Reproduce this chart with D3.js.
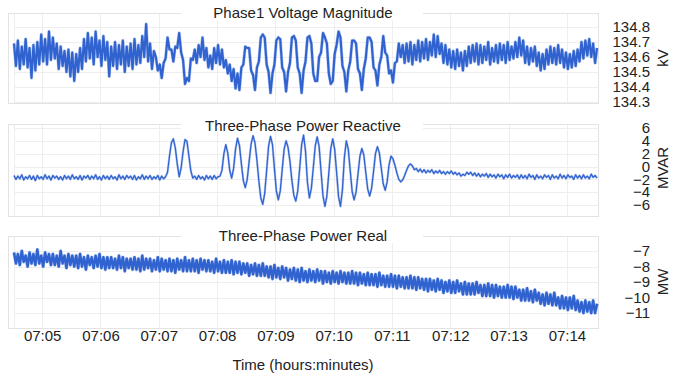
<!DOCTYPE html>
<html><head><meta charset="utf-8">
<script src="https://cdn.jsdelivr.net/npm/d3@7"></script>
<style>html,body{margin:0;padding:0;background:#fff;}svg{display:block;font-family:"Liberation Sans",Arial,sans-serif;}</style>
</head><body><svg id="chart" width="678" height="376"></svg>
<script>
// ---------- data ----------
const startTime = "07:04:31";
const endTime = "07:14:32";
const stepSeconds = 2;
const timeTickLabels = ["07:05","07:06","07:07","07:08","07:09","07:10","07:11","07:12","07:13","07:14"];
const panelTitles = ["Phase1 Voltage Magnitude","Three-Phase Power Reactive","Three-Phase Power Real"];
const unitLabels = ["kV","MVAR","MW"];
const xAxisTitle = "Time (hours:minutes)";
const voltageTicks = [134.3,134.4,134.5,134.6,134.7,134.8];
const reactiveTicks = [-6,-4,-2,0,2,4,6];
const realTicks = [-11,-10,-9,-8,-7];

const voltage = [
134.69,134.54,134.71,134.52,134.67,134.55,134.72,134.53,134.66,134.46,134.68,134.51,134.70,134.55,
134.75,134.57,134.72,134.55,134.77,134.58,134.73,134.59,
134.69,134.52,134.67,134.54,134.64,
134.50,134.65,134.47,134.63,134.44,134.62,134.50,134.66,134.52,
134.72,134.57,134.76,134.59,134.73,134.55,134.77,134.60,134.71,134.54,134.74,134.58,134.70,134.47,134.67,
134.54,134.70,134.52,134.68,134.55,134.71,134.50,134.67,134.54,134.69,134.52,134.72,134.55,134.68,134.56,
134.74,134.60,134.82,134.57,
134.69,134.52,134.64,
134.60,134.51,134.55,134.46,134.56,134.59,134.73,134.65,134.65,134.57,134.67,134.66,134.76,134.63,134.58,134.42,134.46,134.44,134.59,134.58,134.65,
134.56,134.68,134.60,134.73,134.58,134.66,134.53,134.61,134.52,134.66,134.56,134.68,134.55,134.65,134.53,134.58,134.49,
134.55,134.44,134.52,134.39,134.49,134.38,134.53,134.55,134.67,134.66,
134.66,134.51,134.48,134.38,134.53,134.57,134.73,134.75,134.73,134.55,
134.50,134.36,134.49,134.55,134.71,134.73,134.72,134.53,134.50,134.37,
134.50,134.56,134.73,134.74,134.71,134.53,134.49,134.36,134.51,134.57,
134.73,134.74,134.69,134.49,134.44,134.44,134.60,134.63,134.76,134.73,
134.69,134.49,134.42,134.44,134.62,134.68,134.77,134.73,134.54,134.50,
134.37,134.51,134.57,134.71,134.71,134.69,134.52,134.49,134.38,134.52,
134.59,134.73,134.73,134.70,134.53,134.51,134.41,134.55,134.60,134.74,
134.63,134.61,134.49,134.51,134.43,134.56,134.57,134.69,134.60,
134.68,134.56,134.69,134.57,134.70,134.55,134.68,134.58,134.71,134.57,
134.70,134.59,134.72,134.58,134.70,134.61,134.75,134.60,134.74,134.62,
134.69,134.56,134.68,134.55,134.65,134.53,134.64,134.52,134.65,134.54,
134.63,134.51,134.64,134.54,134.67,134.56,134.68,134.57,134.69,134.55,
134.68,134.56,134.67,134.58,134.70,134.55,134.66,134.57,134.68,134.56,
134.69,134.58,134.68,134.56,134.70,134.58,134.67,134.59,134.70,134.60,
134.73,134.61,134.71,134.56,134.67,134.55,134.66,134.57,134.67,134.54,
134.63,134.51,134.62,134.52,134.65,134.55,134.67,134.56,134.66,134.55,
134.68,134.56,134.65,134.53,134.63,134.52,134.62,134.53,134.64,134.54,
134.65,134.57,134.70,134.59,134.71,134.61,134.72,134.60,134.69,134.56,134.66
];

const reactive = [
-1.4,-2.0,-1.5,-1.9,-1.3,-2.1,-1.6,-1.9,-1.4,-2.0,
-1.5,-2.2,-1.4,-1.9,-1.6,-2.0,-1.3,-1.9,-1.5,-2.1,
-1.4,-1.8,-1.5,-2.0,-1.6,-2.1,-1.4,-1.9,-1.5,-2.0,
-1.3,-1.9,-1.6,-2.0,-1.4,-2.1,-1.5,-1.8,-1.4,-2.0,
-1.5,-1.9,-1.3,-2.0,-1.6,-2.1,-1.4,-1.9,-1.5,-2.0,
-1.4,-1.9,-1.6,-2.1,-1.3,-1.9,-1.5,-2.0,-1.4,-1.8,
-1.5,-2.0,-1.4,-2.1,-1.6,-1.9,-1.3,-2.0,-1.5,-1.9,
-1.4,-2.0,-1.6,-1.9,-1.4,-2.1,-1.5,-1.9,
-1.6,-0.9,1.6,3.7,4.3,2.9,0.4,-1.6,-0.2,2.3,4.2,3.9,1.6,-0.7,-1.8,
-1.5,-2.0,-1.4,-1.9,-1.6,-2.1,-1.4,-1.9,-1.5,-2.0,-1.4,-1.9,-1.6,
-1.5,-0.6,2.0,3.4,2.1,-0.6,-1.8,-0.3,2.7,4.4,
3.3,0.4,-2.2,-3.3,
-2.0,0.8,3.5,4.8,
3.7,1.0,-2.3,-4.9,-5.9,
-4.2,-0.6,3.2,4.7,
3.4,-0.3,-3.8,-5.2,
-3.8,-0.5,2.7,4.0,
3.0,0.8,-2.2,-4.5,-5.4,
-3.8,-0.3,3.4,4.9,
2.4,-2.5,-4.9,
-3.4,-0.2,3.2,4.6,
3.1,-0.8,-4.6,-6.2,
-4.6,-1.0,2.8,4.3,
2.7,-0.9,-4.7,-6.2,
-3.6,1.4,4.0,
2.7,-0.6,-3.9,-5.2,
-4.0,-1.2,1.6,2.8,
1.8,-0.9,-3.5,-4.6,
-3.4,-0.8,2.0,3.1,
2.1,-0.3,-2.7,-3.7,
-2.4,0.3,1.6,
1.2,0.2,-1.0,-2.0,-2.4,
-2.1,-1.4,-0.6,0.1,0.4,
0.1,-0.5,-0.3,-0.8,-0.4,-0.9,-0.5,-1.0,-0.6,-0.9,-0.5,-1.1,-0.7,-1.0,-0.6,-1.1,
-0.8,-1.2,-0.8,-1.1,-0.7,-1.2,-0.9,-1.3,-1.0,-1.5,-1.2,-1.4,-0.9,-1.2,-0.9,
-1.4,-1.0,-1.5,-1.1,-1.6,-1.2,-1.5,-1.1,-1.7,-1.2,-1.6,-1.3,-1.8,-1.2,-1.6,-1.3,-1.9,-1.3,-1.7,-1.2,-1.8,-1.4,-1.7,-1.3,-1.9,
-1.3,-1.8,-1.4,-1.9,-1.2,-1.7,-1.4,-2.0,-1.3,-1.8,-1.5,-1.9,-1.3,-1.7,-1.4,-2.0,-1.3,-1.8,-1.5,-1.9,
-1.2,-1.8,-1.4,-1.9,-1.3,-1.7,-1.5,-2.0,-1.3,-1.8,-1.4,-1.9,-1.3,-1.8,-1.5,-1.9,-1.2,-1.7,-1.4,-1.8
];

const real = [
-7.1,-7.8,-7.2,-7.9,-7.0,-7.7,-7.3,-8.0,-7.1,-7.8,
-7.2,-7.9,-6.9,-7.8,-7.3,-8.0,-7.1,-7.7,-7.2,-7.9,
-7.2,-7.9,-7.3,-8.0,-7.0,-7.8,-7.3,-8.1,-7.2,-7.9,
-7.3,-8.0,-7.3,-8.1,-7.2,-8.0,-7.4,-8.2,-7.3,-7.9,
-7.4,-8.1,-7.3,-8.0,-7.2,-8.1,-7.4,-8.2,-7.4,-8.1,
-7.4,-8.1,-7.5,-8.2,-7.3,-8.1,-7.4,-8.3,-7.5,-8.1,
-7.5,-8.2,-7.4,-8.2,-7.5,-8.3,-7.3,-8.2,-7.5,-8.1,
-7.5,-8.3,-7.6,-8.2,-7.4,-8.3,-7.5,-8.2,-7.6,-8.3,
-7.5,-8.3,-7.6,-8.4,-7.5,-8.2,-7.6,-8.3,-7.4,-8.3,
-7.6,-8.3,-7.5,-8.3,-7.6,-8.4,-7.5,-8.2,-7.6,-8.3,
-7.6,-8.3,-7.7,-8.4,-7.5,-8.3,-7.7,-8.4,-7.6,-8.4,
-7.7,-8.4,-7.6,-8.5,-7.7,-8.4,-7.7,-8.5,-7.8,-8.4,
-7.8,-8.6,-7.9,-8.5,-7.8,-8.6,-7.9,-8.6,-7.8,-8.6,
-8.0,-8.7,-8.0,-8.8,-7.9,-8.7,-8.1,-8.8,-8.0,-8.7,
-8.1,-8.9,-8.2,-8.8,-8.1,-8.9,-8.2,-9.0,-8.1,-8.9,
-8.3,-9.0,-8.2,-8.9,-8.3,-9.0,-8.2,-8.9,-8.3,-9.1,
-8.3,-9.0,-8.4,-9.1,-8.3,-9.0,-8.4,-9.1,-8.3,-9.0,
-8.4,-9.1,-8.4,-9.1,-8.3,-9.1,-8.4,-9.2,-8.4,-9.1,
-8.5,-9.2,-8.4,-9.2,-8.5,-9.2,-8.5,-9.3,-8.4,-9.2,
-8.6,-9.3,-8.6,-9.3,-8.5,-9.3,-8.6,-9.4,-8.6,-9.3,
-8.7,-9.4,-8.7,-9.4,-8.6,-9.4,-8.7,-9.5,-8.7,-9.4,
-8.8,-9.5,-8.8,-9.6,-8.8,-9.5,-8.9,-9.6,-8.8,-9.5,
-8.9,-9.7,-9.0,-9.6,-8.9,-9.7,-9.0,-9.7,-8.9,-9.6,
-9.1,-9.8,-9.0,-9.8,-9.1,-9.8,-9.1,-9.8,-9.0,-9.7,
-9.2,-9.9,-9.2,-9.9,-9.1,-9.9,-9.2,-10.0,-9.2,-9.9,
-9.3,-10.0,-9.3,-10.0,-9.2,-10.0,-9.3,-10.1,-9.3,-10.0,
-9.5,-10.2,-9.5,-10.2,-9.4,-10.2,-9.6,-10.3,-9.5,-10.2,
-9.7,-10.4,-9.8,-10.5,-9.7,-10.4,-9.8,-10.5,-9.7,-10.5,
-10.0,-10.7,-9.9,-10.7,-10.0,-10.8,-10.0,-10.7,-9.9,-10.8,
-10.2,-10.9,-10.3,-11.0,-10.2,-10.9,-10.3,-11.0,-10.2,-11.0,-10.4
];

// ---------- layout ----------
const svg = d3.select("#chart");
const parseT = d3.timeParse("%H:%M:%S");
const t0 = parseT(startTime), t1 = parseT(endTime);
const frameLeft = 8, plotLeft = 14, plotRight = 598;
const x = d3.scaleTime().domain([t0, t1]).range([plotLeft, plotRight]);
const color = "#3063cf";

const panels = [
  {data: voltage, ticks: voltageTicks, title: panelTitles[0], unit: unitLabels[0], top: 13, bottom: 103, yr: [102, 27], titleY: 18, unitY: 58, fmt: d3.format(".1f"), sw: 2.2},
  {data: reactive, ticks: reactiveTicks, title: panelTitles[1], unit: unitLabels[1], top: 124, bottom: 216, yr: [205, 128], titleY: 130.5, unitY: 168, fmt: d3.format("d"), sw: 1.3},
  {data: real, ticks: realTicks, title: panelTitles[2], unit: unitLabels[2], top: 236, bottom: 328, yr: [313, 251], titleY: 241, unitY: 282, fmt: d3.format("d"), sw: 2.5}
];

const minuteTicks = timeTickLabels.map(s => parseT(s + ":00"));

panels.forEach(p => {
  const y = d3.scaleLinear().domain([p.ticks[0], p.ticks[p.ticks.length-1]]).range(p.yr);
  const g = svg.append("g");
  g.selectAll(".hg").data(p.ticks).join("line")
    .attr("x1", plotLeft).attr("x2", plotRight)
    .attr("y1", d => Math.round(y(d)) + 0.5).attr("y2", d => Math.round(y(d)) + 0.5)
    .attr("stroke", "#eeeeee");
  g.selectAll(".vg").data(minuteTicks).join("line")
    .attr("x1", d => Math.round(x(d)) + 0.5).attr("x2", d => Math.round(x(d)) + 0.5)
    .attr("y1", p.top).attr("y2", p.bottom)
    .attr("stroke", "#eeeeee");
  g.append("line").attr("x1", plotLeft + 0.5).attr("x2", plotLeft + 0.5)
    .attr("y1", p.top).attr("y2", p.bottom).attr("stroke", "#eeeeee");
  g.append("rect").attr("x", frameLeft + 0.5).attr("y", p.top + 0.5)
    .attr("width", plotRight - frameLeft).attr("height", p.bottom - p.top)
    .attr("fill", "none").attr("stroke", "#e3e3e3");
  const line = d3.line()
    .x((d, i) => x(d3.timeSecond.offset(t0, i * stepSeconds)))
    .y(d => y(d));
  g.append("path").datum(p.data).attr("d", line)
    .attr("fill", "none").attr("stroke", color).attr("stroke-opacity", 0.3).attr("stroke-width", p.sw + 1.1)
    .attr("stroke-linejoin", "round");
  g.append("path").datum(p.data).attr("d", line)
    .attr("fill", "none").attr("stroke", color).attr("stroke-width", p.sw)
    .attr("stroke-linejoin", "round");
  g.append("rect").attr("x", 181).attr("y", p.top - 10).attr("width", 242).attr("height", 17).attr("fill", "#fff");
  g.append("text").attr("x", 303).attr("y", p.titleY).attr("text-anchor", "middle")
    .attr("font-size", 15).attr("fill", "#222").text(p.title);
  const ax = d3.axisLeft(y).tickValues(p.ticks).tickSize(0).tickPadding(0).tickFormat(p.fmt);
  const ag = svg.append("g").attr("transform", "translate(650,0)").call(ax);
  ag.select(".domain").remove();
  ag.selectAll("text").attr("font-size", 15).attr("fill", "#222").attr("font-family", '"Liberation Sans",Arial,sans-serif');
  svg.append("text").attr("transform", `translate(668,${p.unitY}) rotate(-90)`)
    .attr("text-anchor", "middle").attr("font-size", 15).attr("fill", "#222").text(p.unit);
});

const xa = d3.axisBottom(x).tickValues(minuteTicks).tickSize(0).tickPadding(2).tickFormat(d3.timeFormat("%H:%M"));
const xg = svg.append("g").attr("transform", "translate(0,328)").call(xa);
xg.select(".domain").remove();
xg.selectAll("text").attr("font-size", 15).attr("fill", "#222").attr("font-family", '"Liberation Sans",Arial,sans-serif');
svg.append("text").attr("x", 303).attr("y", 370).attr("text-anchor", "middle")
  .attr("font-size", 15).attr("fill", "#222").text(xAxisTitle);
</script></body></html>
